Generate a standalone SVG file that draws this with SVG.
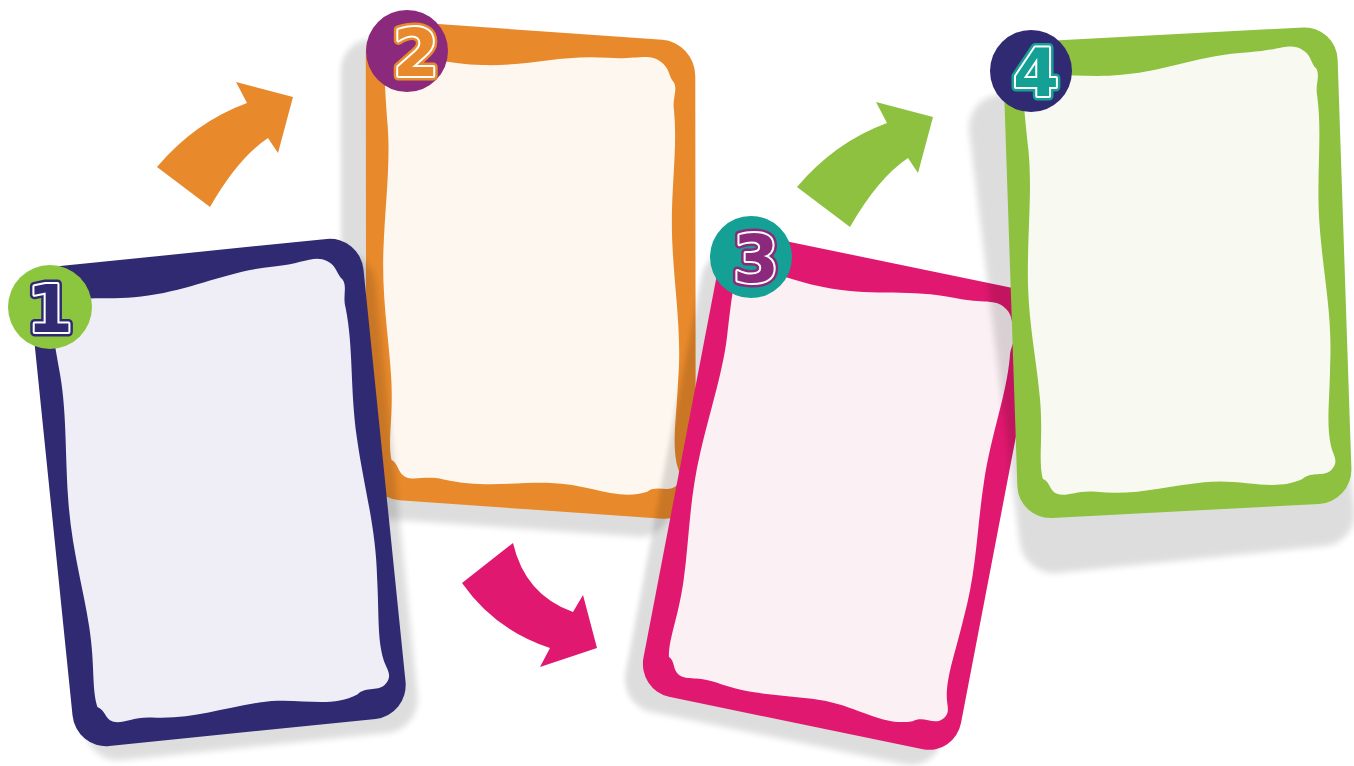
<svg xmlns="http://www.w3.org/2000/svg" width="1354" height="766" viewBox="0 0 1354 766">
<defs>
<style>
.shadow{fill:#000;opacity:.13;filter:url(#blur)}
.num{font-family:"DejaVu Sans","Liberation Sans",sans-serif;font-weight:bold;font-size:66px;text-anchor:middle;stroke-linejoin:round}
.rim{stroke-width:9}
.line{stroke:#fff;stroke-width:4}
</style>
<filter id="blur" x="-20%" y="-20%" width="140%" height="140%"><feGaussianBlur stdDeviation="3"/></filter>
<rect id="outer" x="0" y="0" width="340" height="480" rx="34"/>
<path id="inner" d="M22 36 C50 30 80 40 120 38 C170 36 200 22 250 22 C280 22 292 14 304 22 C314 28 312 36 318 42 C322 50 316 58 318 70 C322 110 314 150 316 200 C318 250 326 290 322 340 C320 380 316 400 320 422 C322 432 328 438 320 446 C312 454 300 446 290 454 C260 466 230 450 190 452 C150 454 120 462 80 456 C60 453 50 460 40 456 C32 452 34 444 26 440 C22 420 28 400 26 360 C24 320 16 280 18 230 C20 180 26 140 22 100 C20 70 18 50 22 36 Z"/>
<path id="arrowUp" d="M157 167 Q195 122 247 103 L236 82 L293 97 L278 153 L268 138 Q238 158 210 207 Z"/>
</defs>
<rect width="1354" height="766" fill="#fff"/>

<g id="card2">
<use href="#outer" class="shadow" transform="translate(-25,18) matrix(0.9691,0.0676,0.00104,0.9979,365.75,19)"/>
<g transform="matrix(0.9691,0.0676,0.00104,0.9979,365.75,19)">
<use href="#outer" fill="#e8892b"/>
<use href="#inner" fill="#fdf7ef"/>
</g>
<g id="badge2">
<circle cx="407" cy="51" r="41" fill="#8b2a7c"/>
<text class="num rim" x="416" y="76" fill="#e8892b" stroke="#e8892b">2</text>
<text class="num line" x="416" y="76" fill="#e8892b">2</text>
<text class="num" x="416" y="76" fill="#e8892b">2</text>
</g>
</g>

<g id="card1">
<use href="#outer" class="shadow" transform="translate(12,14) matrix(0.9794,-0.1,0.1021,1,27,269.5)"/>
<g transform="matrix(0.9794,-0.1,0.1021,1,27,269.5)">
<use href="#outer" fill="#2f2a72"/>
<use href="#inner" fill="#efedf6"/>
</g>
<g id="badge1">
<circle cx="50" cy="307" r="42" fill="#8cc63f"/>
<text class="num rim" x="50" y="332" fill="#2f2a72" stroke="#2f2a72">1</text>
<text class="num line" x="50" y="332" fill="#2f2a72">1</text>
<text class="num" x="50" y="332" fill="#2f2a72">1</text>
</g>
</g>

<g id="card3">
<use href="#outer" class="shadow" transform="translate(-18,15) matrix(0.9338,0.1926,-0.1844,0.9615,725.75,228.75)"/>
<g transform="matrix(0.9338,0.1926,-0.1844,0.9615,725.75,228.75)">
<use href="#outer" fill="#e0186f"/>
<use href="#inner" fill="#fbf1f5"/>
</g>
<g id="badge3">
<circle cx="751" cy="257" r="41" fill="#14a095"/>
<text class="num rim" x="756" y="282" fill="#8b2a7c" stroke="#8b2a7c">3</text>
<text class="num line" x="756" y="282" fill="#8b2a7c">3</text>
<text class="num" x="756" y="282" fill="#8b2a7c">3</text>
</g>
</g>

<g id="card4">
<use href="#outer" class="shadow" transform="matrix(0.9853,-0.0991,0.1225,0.9967,965,98)"/>
<g transform="matrix(0.9824,-0.0515,0.0333,0.9927,1002.5,43.25)">
<use href="#outer" fill="#8dc13f"/>
<use href="#inner" fill="#f8f9f1"/>
</g>
<g id="badge4">
<circle cx="1031" cy="71" r="41" fill="#2f2a72"/>
<text class="num rim" x="1036" y="96" fill="#14a095" stroke="#14a095">4</text>
<text class="num line" x="1036" y="96" fill="#14a095">4</text>
<text class="num" x="1036" y="96" fill="#14a095">4</text>
</g>
</g>

<g id="connectors">
<use href="#arrowUp" fill="#e8892b"/>
<path d="M462 583 L513 543 Q525 595 573 612 L583 595 L597 648 L540 667 L550 648 Q495 630 462 583 Z" fill="#e0186f"/>
<use href="#arrowUp" fill="#8dc13f" transform="translate(640,20)"/>
</g>
</svg>
